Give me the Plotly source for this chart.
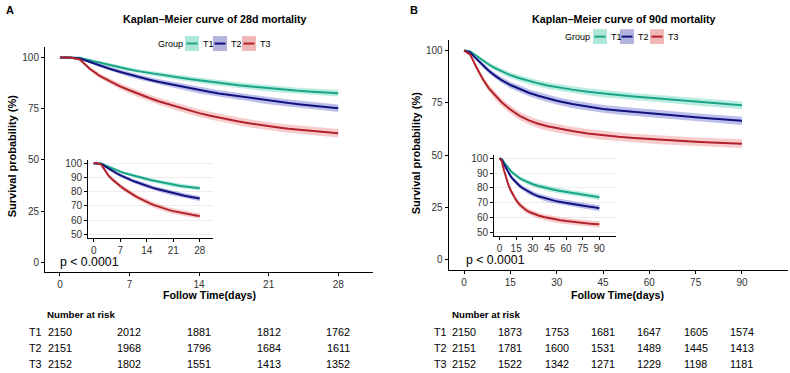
import numpy as np
import plotly.graph_objects as go

# ---------------- data ----------------
groups = ["T1", "T2", "T3"]
n_start = [2150, 2151, 2152]

days_28 = list(range(29))
surv28_T1 = [100, 100, 99.8, 98.6, 97.4, 96.2, 95.1, 94.1, 93.2, 92.4, 91.6, 90.9, 90.2, 89.5,
             88.9, 88.2, 87.6, 87.0, 86.4, 85.9, 85.4, 84.9, 84.5, 84.1, 83.7, 83.4, 83.1, 82.8, 82.5]
surv28_T2 = [100, 100, 99.5, 97.8, 96.0, 94.5, 93.0, 91.6, 90.3, 89.1, 88.0, 87.0, 86.0, 85.0,
             84.0, 83.2, 82.4, 81.7, 81.0, 80.3, 79.6, 78.9, 78.3, 77.7, 77.2, 76.7, 76.2, 75.7, 75.2]
surv28_T3 = [100, 100, 99.0, 94.5, 91.0, 88.5, 86.0, 84.0, 82.0, 80.2, 78.5, 77.0, 75.5, 74.1,
             72.8, 71.7, 70.6, 69.6, 68.7, 67.9, 67.1, 66.4, 65.8, 65.2, 64.7, 64.2, 63.8, 63.4, 63.0]

days_90 = [0, 2, 4, 6, 8, 10, 12, 15, 18, 21, 24, 27, 30, 35, 40, 45, 50, 55, 60, 65, 70, 75, 80, 85, 90]
surv90_T1 = [100, 99.5, 97.5, 95.3, 93.3, 91.6, 90.1, 88.2, 86.7, 85.4, 84.3, 83.3, 82.5, 81.3,
             80.3, 79.4, 78.7, 78.0, 77.4, 76.8, 76.2, 75.5, 74.9, 74.3, 73.8]
surv90_T2 = [100, 99.0, 96.0, 93.0, 90.3, 88.0, 86.0, 83.5, 81.5, 79.8, 78.4, 77.1, 76.0, 74.4,
             73.2, 72.1, 71.3, 70.6, 69.9, 69.3, 68.7, 68.1, 67.5, 67.0, 66.4]
surv90_T3 = [100, 98.0, 92.0, 86.5, 82.0, 78.5, 75.5, 71.8, 68.8, 66.6, 65.0, 63.8, 62.8, 61.5,
             60.4, 59.5, 58.8, 58.2, 57.7, 57.2, 56.8, 56.4, 56.1, 55.8, 55.5]

risk_times_28 = [0, 7, 14, 21, 28]
risk28_T1 = [2150, 2012, 1881, 1812, 1762]
risk28_T2 = [2151, 1968, 1796, 1684, 1611]
risk28_T3 = [2152, 1802, 1551, 1413, 1352]

risk_times_90 = [0, 15, 30, 45, 60, 75, 90]
risk90_T1 = [2150, 1873, 1753, 1681, 1647, 1605, 1574]
risk90_T2 = [2151, 1781, 1600, 1531, 1489, 1445, 1413]
risk90_T3 = [2152, 1522, 1342, 1271, 1229, 1198, 1181]

titles = ["Kaplan\u2013Meier curve of 28d mortality", "Kaplan\u2013Meier curve of 90d mortality"]

# ---------------- styling ----------------
W, H = 790, 373
FONT = "Liberation Sans, Arial, Helvetica, sans-serif"
line_cols = ["#1AA587", "#12127E", "#B2222B"]
band_cols = ["rgba(60,200,170,0.35)", "rgba(70,70,200,0.35)", "rgba(235,110,110,0.35)"]
key_cols = ["#AEE6DA", "#B3B3DE", "#F1B7B7"]


def px(x):
    return x / W


def py(y):
    return 1 - y / H


fig = go.Figure()


def add_curves(days, survs, xa, ya):
    for i, s in enumerate(survs):
        s = np.array(s, dtype=float)
        p = s / 100.0
        se = np.sqrt(np.clip(p * (1 - p), 0, None) / n_start[i]) * 100
        lo = s - 1.96 * se
        hi = s + 1.96 * se
        fig.add_trace(go.Scatter(x=list(days) + list(days)[::-1], y=list(hi) + list(lo)[::-1],
                                 fill="toself", fillcolor=band_cols[i], line=dict(width=0),
                                 mode="lines", hoverinfo="skip", showlegend=False,
                                 xaxis=xa, yaxis=ya))
        fig.add_trace(go.Scatter(x=days, y=s, mode="lines", line=dict(color=line_cols[i], width=2),
                                 name=groups[i], showlegend=False, xaxis=xa, yaxis=ya))


add_curves(days_28, [surv28_T1, surv28_T2, surv28_T3], "x", "y")
add_curves(days_90, [surv90_T1, surv90_T2, surv90_T3], "x2", "y2")
add_curves(days_28, [surv28_T1, surv28_T2, surv28_T3], "x3", "y3")
add_curves(days_90, [surv90_T1, surv90_T2, surv90_T3], "x4", "y4")

tickfont = dict(family=FONT, size=10, color="#333333")


def main_x(dom, rng, ticks, anchor):
    return dict(domain=dom, range=rng, tickvals=ticks, showline=True, linecolor="black", linewidth=1,
                ticks="outside", ticklen=3, tickcolor="black", tickwidth=1, showgrid=False,
                zeroline=False, tickfont=tickfont, anchor=anchor)


def main_y(dom, rng, ticks, anchor, grid=False):
    return dict(domain=dom, range=rng, tickvals=ticks, showline=True, linecolor="black", linewidth=1,
                ticks="outside", ticklen=3, tickcolor="black", tickwidth=1, showgrid=grid,
                gridcolor="#EDEDED", gridwidth=1, zeroline=False, tickfont=tickfont, anchor=anchor)


fig.update_layout(
    width=W, height=H, margin=dict(l=0, r=0, t=0, b=0),
    paper_bgcolor="white", plot_bgcolor="white", showlegend=False,
    xaxis=main_x([px(45), px(373)], [-1.5, 31.5], [0, 7, 14, 21, 28], "y"),
    yaxis=main_y([py(273.4), py(45.7)], [-5, 105], [0, 25, 50, 75, 100], "x"),
    xaxis2=main_x([px(448.6), px(788.3)], [-5, 105], [0, 15, 30, 45, 60, 75, 90], "y2"),
    yaxis2=main_y([py(271.3), py(38.4)], [-5, 105], [0, 25, 50, 75, 100], "x2"),
    xaxis3=main_x([px(88), px(213)], [-1.5, 31.5], [0, 7, 14, 21, 28], "y3"),
    yaxis3=main_y([py(238.6), py(159.4)], [47.5, 102.5], [50, 60, 70, 80, 90, 100], "x3", grid=True),
    xaxis4=main_x([px(494), px(616)], [-5, 105], [0, 15, 30, 45, 60, 75, 90], "y4"),
    yaxis4=main_y([py(236.75), py(154.25)], [47.5, 102.5], [50, 60, 70, 80, 90, 100], "x4", grid=True),
)


def ann(text, x, y, size=11, bold=False, xanchor="center", yanchor="middle", xref="paper",
        textangle=0, color="black"):
    fig.add_annotation(text=("<b>%s</b>" % text) if bold else text, x=x, y=y, xref=xref, yref="paper",
                       xanchor=xanchor, yanchor=yanchor, showarrow=False, textangle=textangle,
                       font=dict(family=FONT, size=size, color=color))


# panel letters and titles
ann("A", px(4), py(8), size=11, bold=True, xanchor="left")
ann("B", px(408), py(8), size=11, bold=True, xanchor="left")
ann(titles[0], px(215), py(17), size=10.7, bold=True)
ann(titles[1], px(624), py(17), size=10.7, bold=True)

# y axis titles
ann("Survival probability (%)", px(12), py(156), size=11, bold=True, textangle=-90)
ann("Survival probability (%)", px(416), py(153), size=11, bold=True, textangle=-90)

# x axis titles
ann("Follow Time(days)", px(210), py(296), size=10.7, bold=True)
ann("Follow Time(days)", px(617), py(296), size=10.7, bold=True)

# p values
ann("p < 0.0001", px(58), py(263), size=12.3, xanchor="left")
ann("p < 0.0001", px(464), py(261), size=12.3, xanchor="left")


# legends (manual, ggplot-style)
def legend(x0, yc, starts):
    ann("Group", px(x0), py(yc), size=9, xanchor="left")
    for i, sx in enumerate(starts):
        fig.add_shape(type="rect", xref="paper", yref="paper", x0=px(sx), x1=px(sx + 14),
                      y0=py(yc + 7.5), y1=py(yc - 7.5), fillcolor=key_cols[i], line=dict(width=0))
        fig.add_shape(type="line", xref="paper", yref="paper", x0=px(sx + 1.5), x1=px(sx + 12.5),
                      y0=py(yc), y1=py(yc), line=dict(color=line_cols[i], width=2))
        ann(groups[i], px(sx + 16), py(yc), size=9, xanchor="left")


legend(156, 42, [185, 213, 242])
legend(563, 35, [593, 620, 650])

# number at risk tables
ann("Number at risk", px(45), py(316), size=9.7, bold=True, xanchor="left")
ann("Number at risk", px(450), py(316), size=9.7, bold=True, xanchor="left")
row_y = [334, 350, 365.5]
for i, (r28, r90) in enumerate(zip([risk28_T1, risk28_T2, risk28_T3], [risk90_T1, risk90_T2, risk90_T3])):
    ann(groups[i], px(27), py(row_y[i]), size=10.8, xanchor="left")
    ann(groups[i], px(432), py(row_y[i]), size=10.8, xanchor="left")
    for t, v in zip(risk_times_28, r28):
        ann(str(v), t, py(row_y[i]), size=10.8, xref="x")
    for t, v in zip(risk_times_90, r90):
        ann(str(v), t, py(row_y[i]), size=10.8, xref="x2")

fig.write_html("out.html", config={"displayModeBar": False},
               post_script="document.body.style.margin='0';document.body.style.overflow='hidden';")
